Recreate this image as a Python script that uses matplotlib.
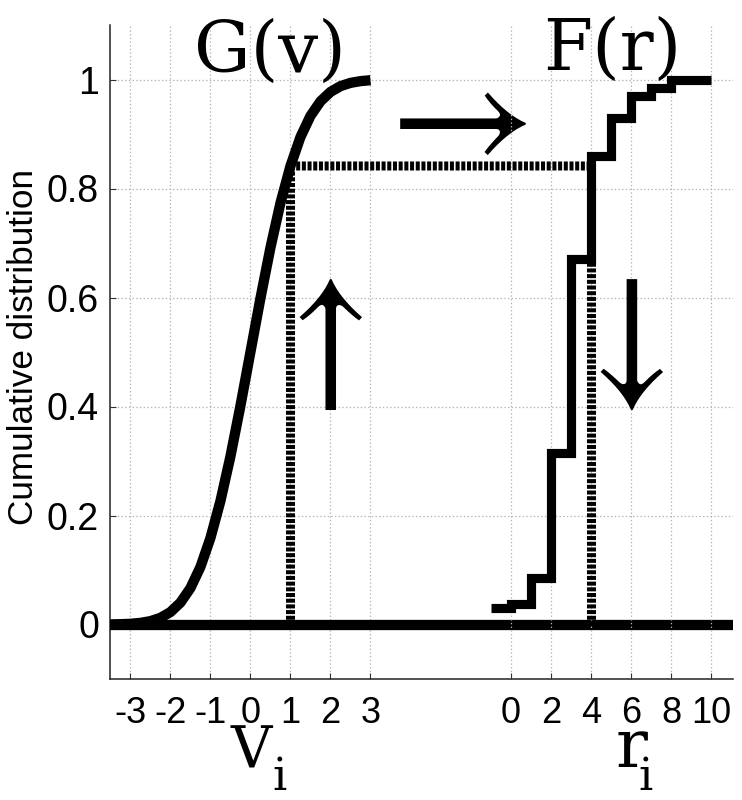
import numpy as np
import matplotlib
matplotlib.use("Agg")
import matplotlib.pyplot as plt
from matplotlib.patches import ConnectionPatch

plt.rcParams['lines.scale_dashes'] = False

# G(v): smooth curve
v_vals = [-3.5, -3.25, -3.0, -2.75, -2.5, -2.25, -2.0, -1.75, -1.5, -1.25, -1.0, -0.75,
          -0.5, -0.25, 0.0, 0.25, 0.5, 0.75, 1.0, 1.25, 1.5, 1.75, 2.0, 2.25, 2.5, 2.75, 3.0]
g_vals = [0.0002, 0.0006, 0.0013, 0.0030, 0.0062, 0.0122, 0.0228, 0.0401, 0.0668, 0.1056,
          0.1587, 0.2266, 0.3085, 0.4013, 0.5, 0.5987, 0.6915, 0.7734, 0.8413, 0.8944,
          0.9332, 0.9599, 0.9772, 0.9878, 0.9938, 0.9970, 0.9987]

# F(r): step function
r_edges = [-1, 0, 1, 2, 3, 4, 5, 6, 7, 8, 10]
f_vals = [0.03, 0.037, 0.085, 0.315, 0.67, 0.86, 0.93, 0.97, 0.985, 1.0]

v_ticks = [-3, -2, -1, 0, 1, 2, 3]
r_ticks = [0, 2, 4, 6, 8, 10]
y_ticks = [0, 0.2, 0.4, 0.6, 0.8, 1]

v_star = 1.0
g_star = 0.8413
r_star = 4
f_below = 0.67

fig = plt.figure(figsize=(7.42, 8), dpi=100)
ax = fig.add_axes([110/742, 1-679/800, 623/742, 654/800])
ax2 = ax.twiny()

ax.set_xlim(-3.51, 12.06)
ax2.set_xlim(-20.05, 11.1)
ax.set_ylim(-0.1, 1.1)

tick_font = {'family': 'Liberation Sans', 'size': 26}
grid_kw = dict(color='#b4b4b4', linestyle=':', linewidth=0.9)

ax.set_xticks(v_ticks)
ax.set_xticklabels([str(t) for t in v_ticks], fontdict=tick_font)
ax.set_yticks(y_ticks)
ax.set_yticklabels(['0', '0.2', '0.4', '0.6', '0.8', '1'],
                   fontdict={'family': 'Liberation Sans', 'size': 27})
ax2.set_xticks(r_ticks)
ax2.set_xticklabels([str(t) for t in r_ticks], fontdict=tick_font)
ax2.xaxis.set_ticks_position('bottom')

ax.grid(True, **grid_kw)
ax2.grid(True, axis='x', **grid_kw)
ax.tick_params(direction='in', length=4, width=0.8, color='#333333')
ax.tick_params(axis='x', pad=12)
ax.tick_params(axis='y', pad=8)
ax2.tick_params(direction='in', length=4, width=0.8, color='#333333', pad=12)

for s in ['top', 'right']:
    ax.spines[s].set_visible(False)
for s in ax2.spines:
    ax2.spines[s].set_visible(False)
for s in ['left', 'bottom']:
    ax.spines[s].set_linewidth(1.1)
    ax.spines[s].set_color('#222222')

ax.set_ylabel('Cumulative distribution', family='Liberation Sans', size=25.3)
ax.yaxis.set_label_coords(-0.112, 0.508)

# zero line and curves
ax.axhline(0, color='k', linewidth=7.4, solid_capstyle='butt', zorder=3)
ax.plot(v_vals, g_vals, color='k', linewidth=7.4, solid_capstyle='butt', zorder=4)
ax2.stairs(f_vals, r_edges, color='k', linewidth=6.6, baseline=None, zorder=4)

# dotted guide lines
dot = (0, (2.9, 1.2))
ax.plot([v_star, v_star], [0, g_star], color='k', linewidth=6.5, linestyle=dot, zorder=2)
ax2.plot([r_star, r_star], [0, f_below], color='k', linewidth=6.5, linestyle=dot, zorder=2)
con = ConnectionPatch((v_star, g_star), (r_star, g_star), 'data', 'data',
                      axesA=ax, axesB=ax2, color='k', linewidth=6.5, linestyle=dot,
                      capstyle='butt', zorder=2)
ax2.add_artist(con)

# arrows
arrow_font = dict(family='STIXGeneral', size=115, ha='center', va='center')
ax.text(2, 0.508, '\u2191', **arrow_font)
ax.text(5.3, 0.913, '\u2192', **arrow_font)
ax2.text(6, 0.508, '\u2193', **arrow_font)

# labels
fig.text(270/742, 1-72/800, 'G(v)', family='DejaVu Serif', size=51, ha='center', va='baseline')
fig.text(612/742, 1-70/800, 'F(r)', family='DejaVu Serif', size=51, ha='center', va='baseline')
fig.text(251/742, 1-767/800, 'V', family='DejaVu Serif', size=41, ha='center', va='baseline')
fig.text(279/742, 1-790/800, 'i', family='DejaVu Serif', size=32, ha='center', va='baseline')
fig.text(631/742, 1-767/800, 'r', family='DejaVu Serif', size=48, ha='center', va='baseline')
fig.text(646/742, 1-790/800, 'i', family='DejaVu Serif', size=32, ha='center', va='baseline')

fig.savefig('out.png', dpi=100)
